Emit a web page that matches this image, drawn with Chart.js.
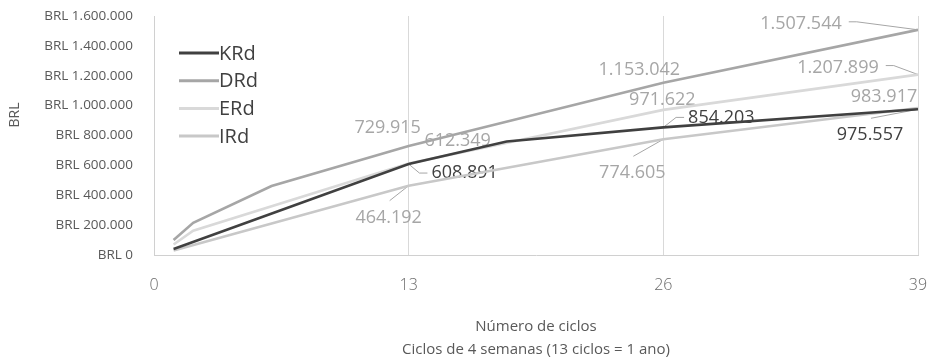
<!DOCTYPE html>
<html>
<head>
<meta charset="utf-8">
<script src="https://cdn.jsdelivr.net/npm/chart.js@4.4.1/dist/chart.umd.min.js"></script>
<style>
  body { margin: 0; background: #fff; }
  #wrap { width: 931px; height: 363px; }
</style>
</head>
<body>
<div id="wrap"><canvas id="chart" width="931" height="363"></canvas></div>
<script>
// valores (ciclos de 4 semanas)
const seriesNames = ["KRd", "DRd", "ERd", "IRd"];
const krdCycles = [1, 13, 18, 26, 39];
const krdValues = [40000, 608891, 760000, 854203, 975557];
const drdCycles = [1, 2, 6, 13, 26, 39];
const drdValues = [100000, 215000, 462000, 729915, 1153042, 1507544];
const erdCycles = [1, 2, 13, 26, 39];
const erdValues = [70000, 162000, 612349, 971622, 1207899];
const irdCycles = [1, 13, 26, 39];
const irdValues = [30000, 464192, 774605, 983917];
const xTicks = [0, 13, 26, 39];
const labeledCycles = [13, 26, 39];

const colors = ["#404040", "#a6a6a6", "#d9d9d9", "#c8c8c8"];
const labelColors = ["#404040", "#a6a6a6", "#a6a6a6", "#a6a6a6"];

// onde fica cada rótulo em relação ao ponto (dx, dy) e de que lado sai a linha guia
const labelPlace = {
  KRd: { 13: [56, 9, "left"], 26: [58, -10, "left"], 39: [-48, 26, "top"] },
  DRd: { 13: [-21, -18, null], 26: [-24, -13, null], 39: [-117, -6, "right"] },
  ERd: { 13: [49, -23, null], 26: [-1, -10, null], 39: [-80, -7, "right"] },
  IRd: { 13: [-20, 32, "top"], 26: [-31, 34, "top"], 39: [-34, -11, null] }
};

const fmt = v => String(Math.round(v)).replace(/\B(?=(\d{3})+(?!\d))/g, ".");

function pts(xs, ys) { return xs.map((x, i) => ({ x: x, y: ys[i] })); }

const allCycles = [krdCycles, drdCycles, erdCycles, irdCycles];
const allValues = [krdValues, drdValues, erdValues, irdValues];

const labelsPlugin = {
  id: "rotulos",
  beforeDatasetsDraw(chart) {
    const ctx = chart.ctx;
    const xs = chart.scales.x, ys = chart.scales.y;
    ctx.save();
    ctx.font = "18px 'Open Sans'";
    ctx.textAlign = "center";
    ctx.textBaseline = "middle";
    seriesNames.forEach((name, s) => {
      allCycles[s].forEach((c, i) => {
        if (!labeledCycles.includes(c)) return;
        const place = labelPlace[name][c];
        const px = xs.getPixelForValue(c), py = ys.getPixelForValue(allValues[s][i]);
        const lx = px + place[0], ly = py + place[1];
        const txt = fmt(allValues[s][i]);
        const w = ctx.measureText(txt).width;
        ctx.fillStyle = labelColors[s];
        ctx.fillText(txt, lx, ly);
        if (place[2]) {
          ctx.strokeStyle = "#a6a6a6";
          ctx.lineWidth = 1;
          ctx.beginPath();
          if (place[2] === "left") {
            const ax = lx - w / 2 - 4;
            ctx.moveTo(ax, ly);
            ctx.lineTo(ax - 8, ly);
          } else if (place[2] === "right") {
            const ax = lx + w / 2 + 7;
            ctx.moveTo(ax, ly - 2);
            ctx.lineTo(ax + 8, ly - 2);
          } else {
            ctx.moveTo(lx + 1, ly - 17);
          }
          ctx.lineTo(px, py);
          ctx.stroke();
        }
      });
    });
    ctx.restore();
  },
  afterDraw(chart) {
    const ctx = chart.ctx;
    ctx.save();
    // título do eixo y
    ctx.fillStyle = "#595959";
    ctx.font = "14px 'Open Sans'";
    ctx.textAlign = "center";
    ctx.textBaseline = "middle";
    ctx.translate(15, 115);
    ctx.rotate(-Math.PI / 2);
    ctx.fillText("BRL", 0, 0);
    ctx.setTransform(1, 0, 0, 1, 0, 0);
    // legenda dentro da área do gráfico
    ctx.font = "20px 'Open Sans'";
    ctx.textAlign = "left";
    seriesNames.forEach((name, s) => {
      const y = 53 + s * 27.7;
      ctx.strokeStyle = colors[s];
      ctx.lineWidth = 3;
      ctx.beginPath();
      ctx.moveTo(179, y);
      ctx.lineTo(219, y);
      ctx.stroke();
      ctx.fillStyle = "#404040";
      ctx.fillText(name, 219, y + 1);
    });
    ctx.restore();
  }
};

new Chart(document.getElementById("chart"), {
  type: "line",
  data: {
    datasets: seriesNames.map((name, s) => ({
      label: name,
      data: pts(allCycles[s], allValues[s]),
      borderColor: colors[s],
      borderWidth: 2.6,
      pointRadius: 0,
      tension: 0,
      fill: false
    }))
  },
  options: {
    responsive: false,
    animation: false,
    layout: { padding: { top: 16, right: 13, left: 0, bottom: 0 } },
    plugins: { legend: { display: false }, tooltip: { enabled: false } },
    scales: {
      x: {
        type: "linear",
        min: 0,
        max: 39,
        afterBuildTicks: axis => { axis.ticks = xTicks.map(v => ({ value: v })); },
        afterFit: axis => {
          axis.height = 108;
          axis.paddingLeft = 0;
          axis.paddingRight = 0;
        },
        grid: { display: true, color: "#d9d9d9", drawTicks: false },
        border: { display: true, color: "#d0d0d0" },
        ticks: { padding: 21, color: "#6a6a6a", font: { family: "'Open Sans'", size: 16, weight: 300 } },
        title: {
          display: true,
          text: ["Número de ciclos", "Ciclos de 4 semanas (13 ciclos = 1 ano)"],
          color: "#595959",
          font: { family: "'Open Sans'", size: 15, lineHeight: 1.53 },
          padding: { top: 0, bottom: 1.5 }
        }
      },
      y: {
        min: 0,
        max: 1600000,
        afterFit: axis => {
          axis.width = 154;
          axis.paddingTop = 0;
          axis.paddingBottom = 0;
        },
        grid: { display: false },
        border: { display: true, color: "#d0d0d0" },
        ticks: {
          stepSize: 200000,
          padding: 13,
          color: "#595959",
          font: { family: "'Open Sans'", size: 13.5 },
          callback: v => "BRL " + fmt(v)
        },
        title: { display: false }
      }
    }
  },
  plugins: [labelsPlugin]
});
</script>
</body>
</html>
